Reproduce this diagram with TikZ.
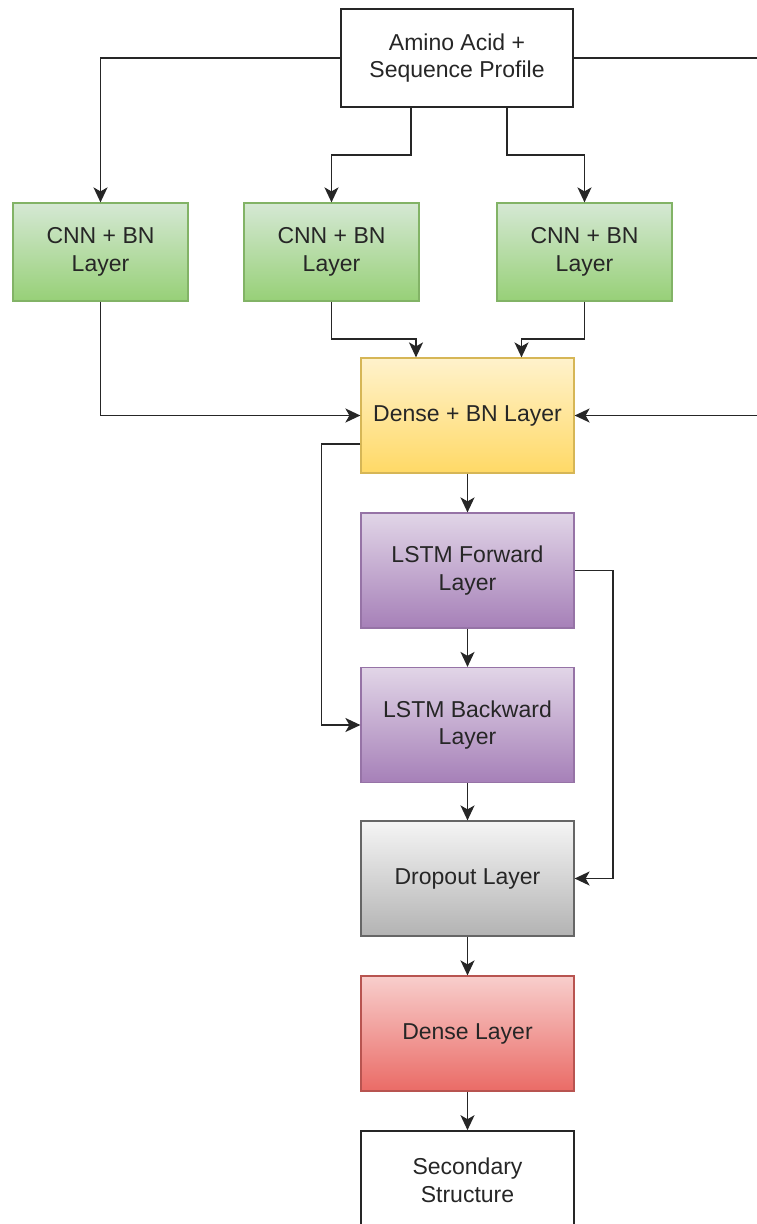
\documentclass[tikz,border=0pt]{standalone}
\usepackage{fontspec}
\setmainfont{Liberation Sans}
\usetikzlibrary{positioning,arrows.meta,calc}

\definecolor{grnT}{HTML}{D5E8D4}\definecolor{grnB}{HTML}{97D077}\definecolor{grnD}{HTML}{82B366}
\definecolor{ylwT}{HTML}{FFF2CC}\definecolor{ylwB}{HTML}{FFD966}\definecolor{ylwD}{HTML}{D6B656}
\definecolor{prpT}{HTML}{E1D5E7}\definecolor{prpB}{HTML}{A680B8}\definecolor{prpD}{HTML}{9673A6}
\definecolor{gryT}{HTML}{F5F5F5}\definecolor{gryB}{HTML}{B3B3B3}\definecolor{gryD}{HTML}{666666}
\definecolor{redT}{HTML}{F8CECC}\definecolor{redB}{HTML}{EA6B66}\definecolor{redD}{HTML}{B85450}

\tikzset{
  box/.style={rectangle, line width=1.2pt, align=center, inner sep=0pt,
    font=\fontsize{23}{27.6}\selectfont, text=black!85},
  plainbox/.style={box, draw=black!85, fill=white, minimum width=232pt, minimum height=98pt, line width=1.6pt},
  cnnbox/.style={box, draw=grnD, top color=grnT, bottom color=grnB, minimum width=175pt, minimum height=98pt},
  layer/.style={box, minimum width=213pt, minimum height=115pt},
  link/.style={line width=1.8pt, black!85, -{Stealth[length=15pt,width=14pt,inset=4pt]}},
}

\begin{document}
\begin{tikzpicture}[x=1pt,y=-1pt]
  \useasboundingbox (0,0) rectangle (757,1224);
  % input and the three convolution branches
  \node[plainbox] (input) at (457,58) {Amino Acid +\\Sequence Profile};
  \node[cnnbox] (cnnA) at (100.5,252) {CNN + BN\\Layer};
  \node[cnnbox] (cnnB) at (331.5,252) {CNN + BN\\Layer};
  \node[cnnbox] (cnnC) at (584.5,252) {CNN + BN\\Layer};
  % main column
  \node[layer, draw=ylwD, top color=ylwT, bottom color=ylwB] (dbn) at (467.5,415.5) {Dense + BN Layer};
  \node[layer, draw=prpD, top color=prpT, bottom color=prpB] (lstmF) at (467.5,570.5) {LSTM Forward\\Layer};
  \node[layer, draw=prpD, top color=prpT, bottom color=prpB] (lstmB) at (467.5,725) {LSTM Backward\\Layer};
  \node[layer, draw=gryD, top color=gryT, bottom color=gryB] (drop) at (467.5,878.5) {Dropout Layer};
  \node[layer, draw=redD, top color=redT, bottom color=redB] (dense) at (467.5,1033.5) {Dense Layer};
  \node[plainbox, minimum width=213pt, minimum height=98pt] (out) at (467.5,1180) {Secondary\\Structure};

  % input fan-out
  \draw[link] (input.west) -| (cnnA.north);
  \draw[link] ([xshift=-46pt]input.south) -- ++(0,47) -| (cnnB.north);
  \draw[link] ([xshift=50pt]input.south) -- ++(0,47) -| (cnnC.north);
  \draw[link] (input.east) -- ++(185,0) |- (dbn.east);
  % branches into dense
  \draw[link] (cnnA.south) |- (dbn.west);
  \draw[link] (cnnB.south) -- ++(0,37) -| ([xshift=-51.5pt]dbn.north);
  \draw[link] (cnnC.south) -- ++(0,37) -| ([xshift=54pt]dbn.north);
  % column
  \draw[link] (dbn) -- (lstmF);
  \draw[link] (lstmF) -- (lstmB);
  \draw[link] (lstmB) -- (drop);
  \draw[link] (drop) -- (dense);
  \draw[link] (dense) -- (out);
  % skips
  \draw[link] ([yshift=-28.5pt]dbn.west) -- ++(-39,0) |- (lstmB.west);
  \draw[link] (lstmF.east) -- ++(38,0) |- (drop.east);
\end{tikzpicture}
\end{document}
